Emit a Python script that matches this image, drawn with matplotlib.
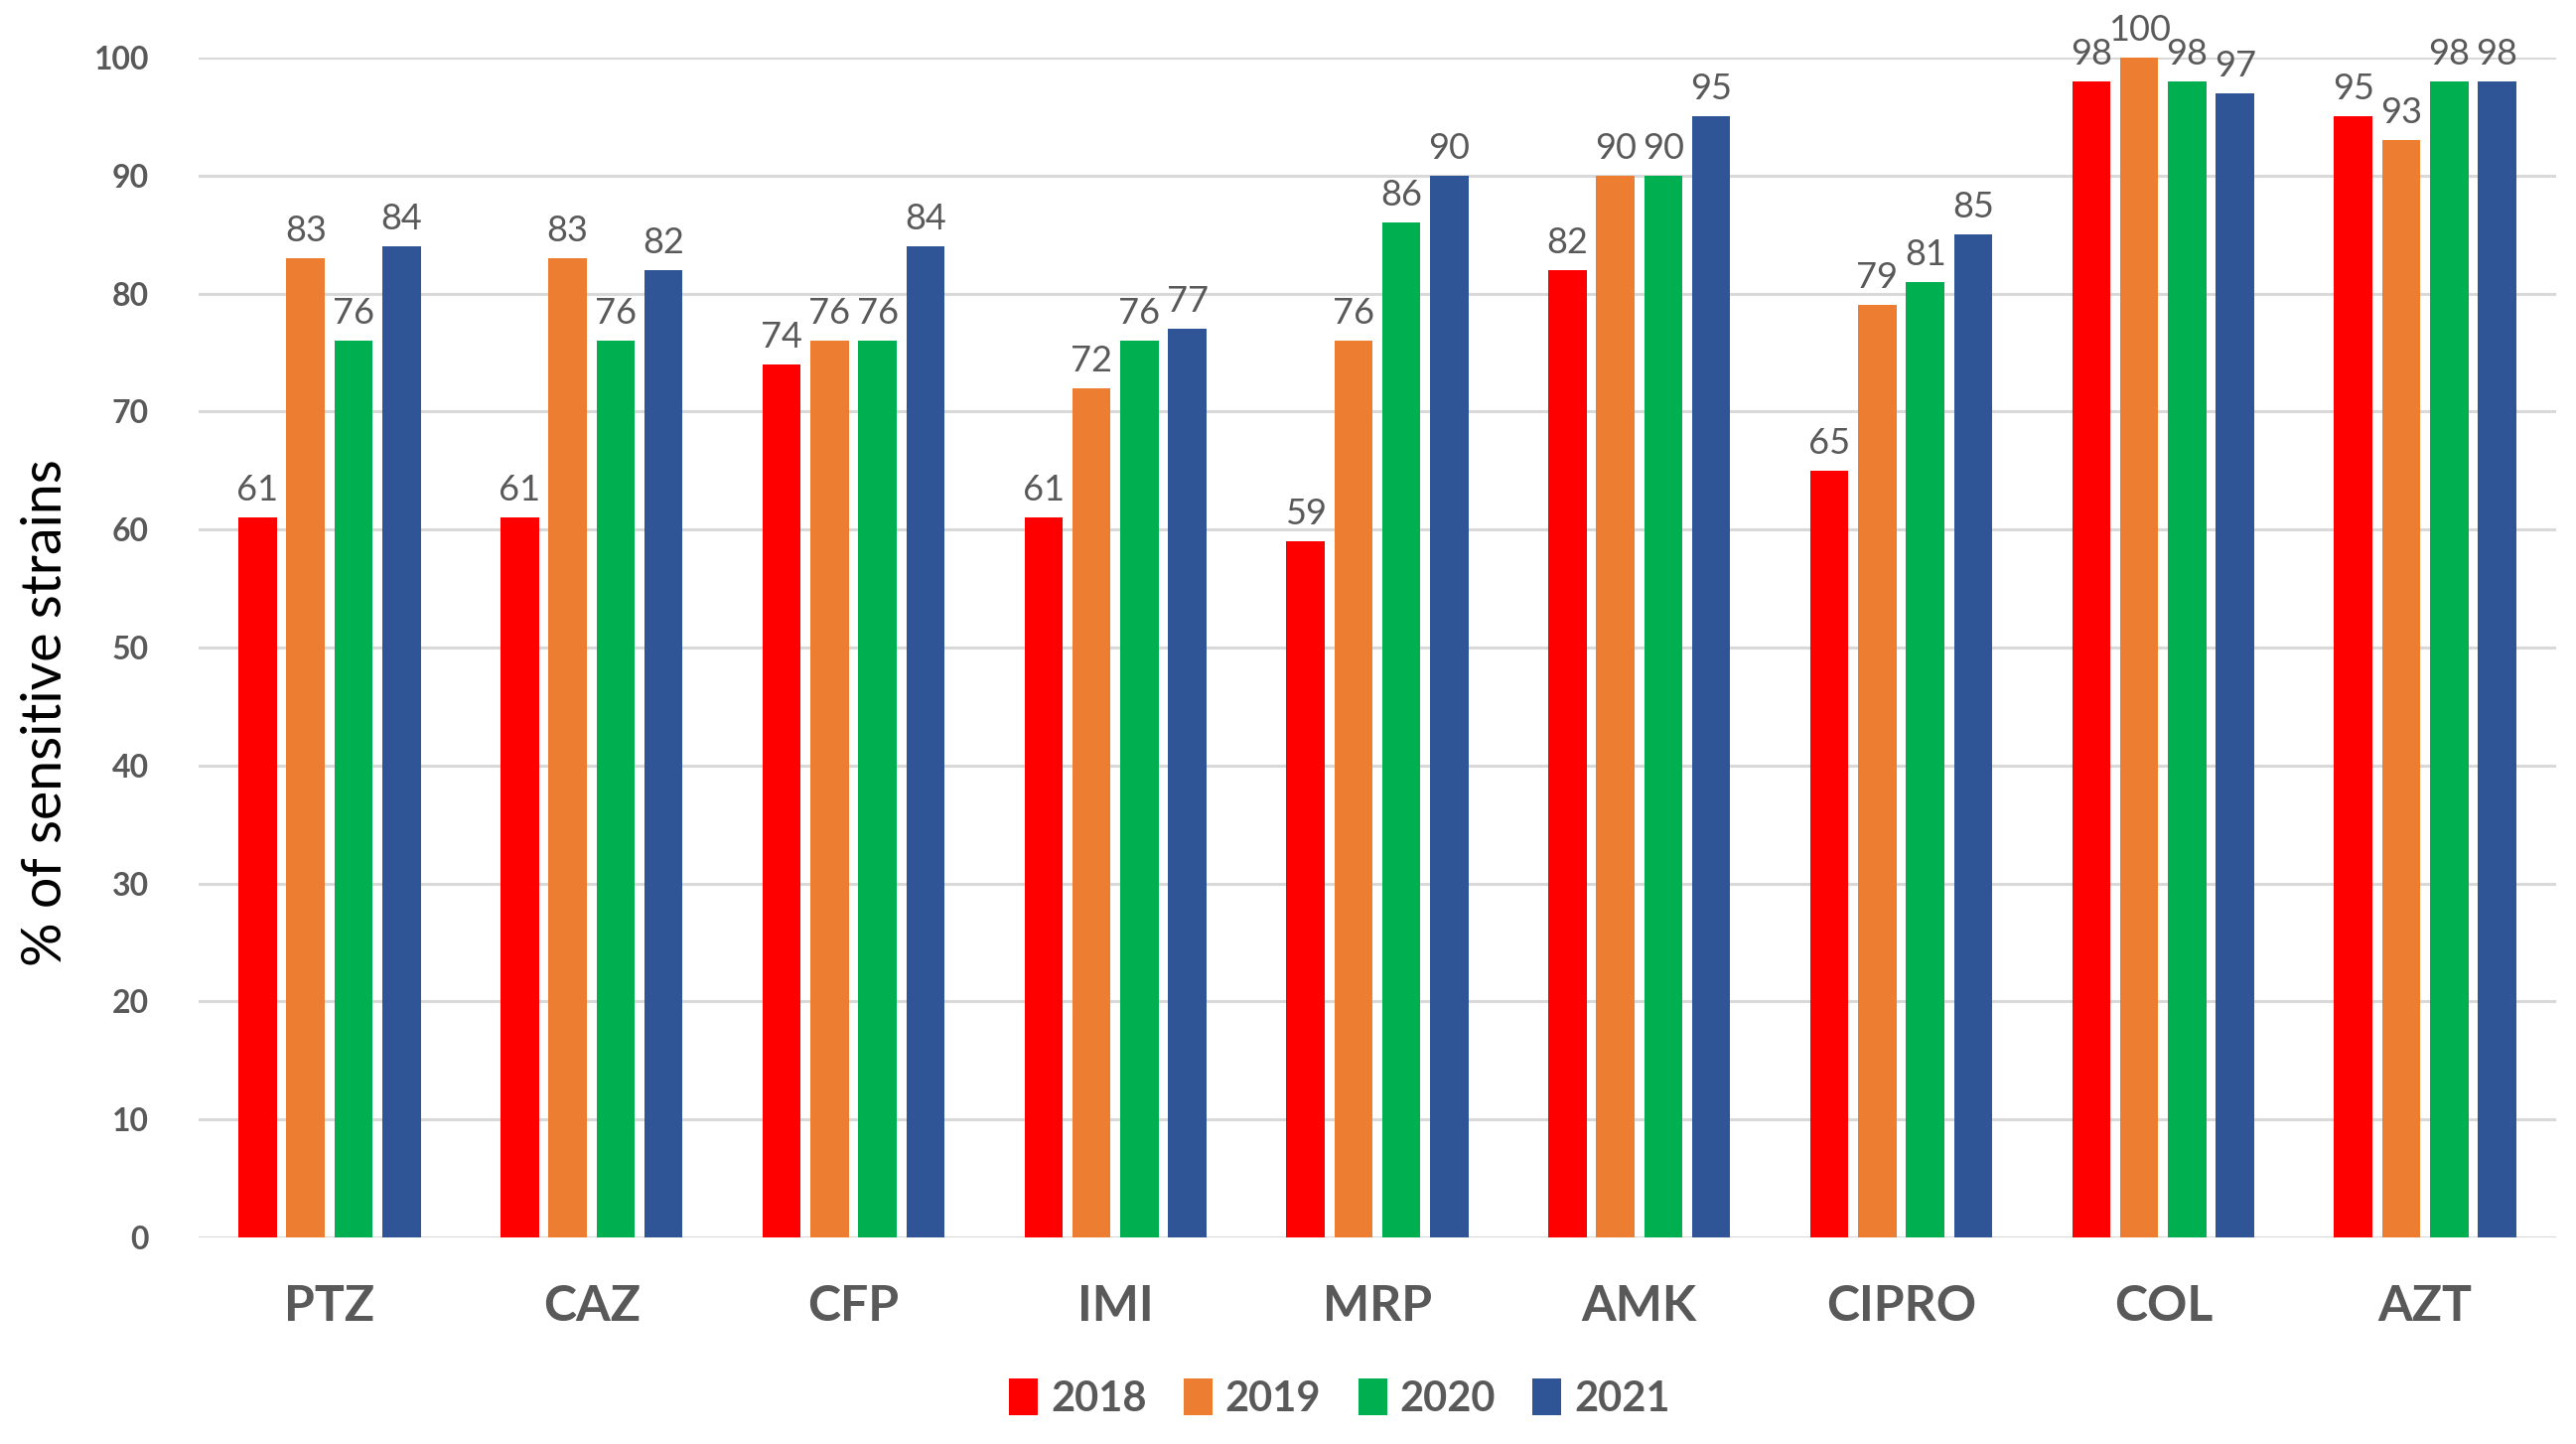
import matplotlib
matplotlib.use("Agg")
import matplotlib.pyplot as plt
import numpy as np

plt.rcParams['font.family'] = ['Lato', 'DejaVu Sans']

drugs = ['PTZ', 'CAZ', 'CFP', 'IMI', 'MRP', 'AMK', 'CIPRO', 'COL', 'AZT']
years = ['2018', '2019', '2020', '2021']
v2018 = [61, 61, 74, 61, 59, 82, 65, 98, 95]
v2019 = [83, 83, 76, 72, 76, 90, 79, 100, 93]
v2020 = [76, 76, 76, 76, 86, 90, 81, 98, 98]
v2021 = [84, 82, 84, 77, 90, 95, 85, 97, 98]
colors = ['#ff0000', '#ed7d31', '#00b050', '#2f5597']

series = [v2018, v2019, v2020, v2021]
x = np.arange(len(drugs))
width = 0.146
step = 0.183
grey = '#595959'

fig = plt.figure(figsize=(25.94, 14.54), dpi=100)
ax = fig.add_axes([200 / 2594, 1 - 1246 / 1454, 2374 / 2594, (1246 - 58) / 1454])

for i, (vals, yr, c) in enumerate(zip(series, years, colors)):
    pos = x + (i - 1.5) * step
    rects = ax.bar(pos, vals, width, color=c, label=yr, zorder=3)
    for r in rects:
        h = r.get_height()
        ax.annotate('%d' % h, xy=(r.get_x() + r.get_width() / 2, h),
                    xytext=(0, 8), textcoords='offset points',
                    ha='center', va='bottom', fontsize=26, color=grey)

ax.set_xlim(-0.5, len(drugs) - 0.5)
ax.set_ylim(0, 100)
ax.set_yticks(range(0, 101, 10))
ax.yaxis.grid(True, color='#d9d9d9', linewidth=2.2, zorder=0)
ax.set_axisbelow(True)
for s in ax.spines.values():
    s.set_visible(False)
ax.tick_params(axis='both', length=0)
ax.tick_params(axis='y', labelsize=23, labelcolor=grey, pad=36)
ax.tick_params(axis='x', labelsize=36, labelcolor=grey, pad=34)
for lab in ax.get_yticklabels():
    lab.set_fontweight('bold')
ax.set_xticks(x)
ax.set_xticklabels(drugs, fontweight='bold')

ax.set_ylabel('% of sensitive strains', fontsize=40, color='black')
ax.yaxis.set_label_coords(-0.054, 0.445)

leg = fig.legend(loc='center', bbox_to_anchor=(0.52, 1 - 1408 / 1454), ncol=4,
                 frameon=False, fontsize=30, handlelength=0.7, handleheight=1.0,
                 handletextpad=0.3, columnspacing=0.9)
for t in leg.get_texts():
    t.set_color(grey)
    t.set_fontweight('bold')

fig.savefig('out.png', dpi=100)
